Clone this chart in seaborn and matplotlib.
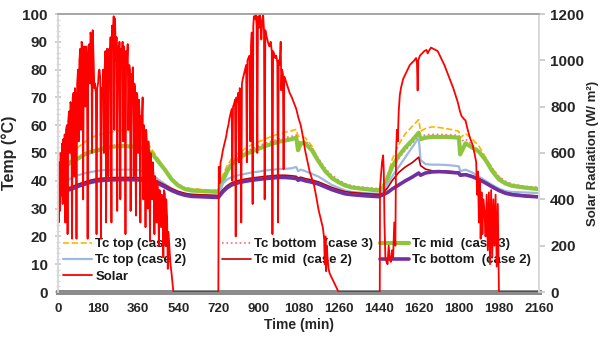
import matplotlib
matplotlib.use("Agg")
import matplotlib.pyplot as plt
import seaborn as sns
from matplotlib.ticker import MultipleLocator

# time axis for the collector temperatures (min)
temp_time = [0, 20, 40, 60, 90, 120, 150, 180, 210, 240, 270, 300, 330, 360, 390, 420, 450, 480, 510, 540, 570, 600, 660, 720,
             740, 760, 780, 810, 840, 870, 900, 930, 960, 990, 1020, 1050, 1070, 1078, 1090, 1110, 1140, 1170, 1200, 1230, 1260, 1290, 1320, 1380, 1440,
             1460, 1480, 1500, 1530, 1560, 1590, 1620, 1628, 1650, 1680, 1710, 1740, 1770, 1800, 1806, 1830, 1860, 1890, 1920, 1950, 1980, 2010, 2040, 2100, 2160]

# temperatures (deg C)
tc_top_case3 = [45, 46.5, 48, 50, 52, 54, 55.5, 56.5, 57, 57.5, 58, 58.3, 58, 57.5, 54.5, 51.5, 48, 44, 40.5, 38.5, 37.5, 37.2, 36.8, 36.5,
                42, 45.5, 48, 50, 51.5, 53, 54, 55, 56, 56.8, 57.5, 58, 58.5, 56, 56, 55.5, 52.5, 47.5, 43.5, 41, 39.5, 38.5, 37.8, 37.3, 37,
                38.5, 42, 47.5, 53, 57, 59.5, 62, 57.8, 58.8, 59.4, 59.2, 58.8, 58.4, 57.8, 55.5, 57, 55, 52.5, 48.5, 44.5, 41.5, 39.5, 38.5, 37.8, 37.3]
tc_bottom_case3 = [41.5, 43.5, 46, 47.5, 48.5, 50, 51, 51.5, 52.3, 52.7, 52.9, 53, 52.8, 52.5, 52, 50.5, 47.5, 44.5, 41, 38.8, 37.5, 37, 36.7, 36.5,
                   41, 44.5, 47, 49, 50.5, 51.5, 52.5, 53.5, 54.3, 55, 55.5, 56, 56.5, 53, 54.5, 54.5, 52, 48, 44.5, 42, 40.3, 39, 38.2, 37.6, 37.2,
                   38, 40.5, 44, 48, 51, 53.5, 56, 56, 56.5, 56.7, 56.7, 56.6, 56.5, 56.3, 54, 55, 53, 51, 48, 44.5, 41.5, 39.8, 38.8, 38, 37.6]
tc_mid_case3 = [41, 43, 45.5, 47, 48, 49.5, 50.5, 51, 51.8, 52.2, 52.4, 52.5, 52.3, 52, 51.5, 50, 47, 44, 40.5, 38.3, 37, 36.5, 36.2, 36,
                40, 43.5, 46, 48, 49.5, 50.5, 51.5, 52.5, 53.3, 54, 54.5, 55, 55.5, 51, 53.5, 53.5, 51, 47, 43.5, 41, 39.5, 38.3, 37.6, 37, 36.5,
                37.5, 41, 45, 49, 52, 54.5, 57.3, 55, 55.5, 55.8, 55.8, 55.8, 55.7, 55.5, 49.5, 53.5, 52, 50.5, 47.5, 43.5, 40.5, 39, 38.2, 37.5, 37]
tc_top_case2 = [38, 39, 40, 41, 42, 42.7, 43.2, 43.6, 43.9, 44, 44, 44, 44, 43.8, 43.5, 42.5, 40.5, 38.8, 37.2, 36, 35.3, 35, 34.8, 34.6,
                39, 40.5, 41.3, 42, 42.5, 43, 43.3, 43.7, 44, 44.2, 44.3, 44.5, 45, 43.5, 44, 43.5, 42.5, 41.5, 40, 38.5, 37.5, 36.5, 36, 35.6, 35.3,
                36.5, 39, 41.5, 45, 48.5, 52, 55.5, 47.5, 46, 45.8, 45.8, 45.7, 45.5, 45.2, 43.5, 44, 43, 41.5, 40, 38.5, 37.2, 36.3, 36, 35.8, 35.6]
tc_mid_case2 = [34.5, 36.8, 37.3, 37.8, 38.8, 39.6, 40.3, 40.8, 41, 41.1, 41.2, 41.2, 41.2, 41.1, 41, 40.7, 39.7, 38.5, 37.2, 36.2, 35.5, 35.1, 34.9, 34.7,
                36.8, 38.3, 39.3, 40.1, 40.6, 41, 41.3, 41.6, 41.8, 42, 42, 41.8, 41.6, 41, 41.3, 40.8, 40.3, 39.6, 38.6, 37.6, 36.8, 36.1, 35.8, 35.4, 35.1,
                35.5, 37.5, 40, 43, 45, 46.5, 48.5, 45.5, 44.2, 43.6, 43.6, 43.5, 43.3, 43.1, 42.3, 42.5, 41.8, 40.8, 39.5, 38.1, 36.8, 35.8, 35.3, 34.8, 34.5]
tc_bottom_case2 = [33.5, 36, 36.5, 37, 38, 38.8, 39.5, 40, 40.2, 40.3, 40.4, 40.4, 40.4, 40.3, 40.2, 40, 39, 37.8, 36.5, 35.5, 34.8, 34.4, 34.2, 34,
                   36, 37.5, 38.5, 39.3, 39.8, 40.2, 40.5, 40.8, 41, 41.2, 41.2, 41, 40.8, 40.2, 40.5, 40, 39.5, 38.8, 37.8, 36.8, 36, 35.3, 35, 34.6, 34.3,
                   35, 35.8, 37, 38.5, 40, 41.3, 42.8, 42, 42.8, 43.2, 43.3, 43.2, 43, 42.8, 42, 42.2, 41.5, 40.5, 39.2, 37.8, 36.5, 35.5, 35, 34.5, 34.2]

# solar radiation (time in min, W/m2), one list per day
solar_day1 = [(0, 480), (3, 300), (6, 560), (9, 350), (12, 600), (15, 420), (18, 640), (21, 380), (24, 660), (27, 520),
              (30, 680), (33, 300), (36, 700), (40, 720), (43, 250), (46, 740), (50, 780), (53, 600), (56, 820),
              (60, 800), (63, 230), (66, 840), (70, 860), (73, 500), (76, 880), (80, 830), (83, 230), (86, 900),
              (90, 960), (93, 650), (96, 1000), (100, 1050), (103, 700), (106, 1080), (110, 1050), (113, 400), (116, 1060),
              (120, 1040), (123, 800), (126, 1060), (130, 1000), (133, 230), (136, 1060), (140, 1070), (143, 900), (146, 1120),
              (150, 1090), (153, 600), (156, 1130), (160, 1000), (163, 880), (166, 900), (170, 860), (173, 250), (176, 880),
              (180, 900), (183, 950), (186, 960), (190, 920), (193, 230), (196, 880), (200, 860), (203, 960), (206, 600),
              (210, 980), (213, 1040), (216, 300), (220, 1050), (223, 1040), (226, 500), (230, 1050), (233, 1000), (236, 1100),
              (240, 300), (243, 1150), (246, 1050), (250, 1190), (253, 700), (256, 1180), (260, 1000), (263, 1100), (266, 350),
              (270, 1060), (273, 950), (276, 1080), (280, 400), (283, 1050), (286, 1000), (290, 1080), (293, 650), (296, 1060),
              (300, 1000), (303, 250), (306, 1040), (310, 1000), (313, 1070), (316, 700), (320, 980), (323, 960), (326, 350),
              (330, 940), (333, 900), (336, 970), (340, 500), (343, 900), (346, 880), (350, 330), (353, 860), (356, 850),
              (360, 600), (363, 830), (366, 780), (370, 300), (373, 760), (376, 720), (380, 840), (383, 400), (386, 720),
              (390, 660), (393, 280), (396, 700), (400, 620), (403, 360), (406, 650), (410, 560), (413, 220), (416, 600),
              (420, 520), (423, 400), (426, 560), (430, 480), (433, 250), (436, 500), (440, 460), (443, 300), (446, 480),
              (450, 420), (453, 200), (456, 440), (460, 400), (463, 280), (466, 420), (470, 380), (473, 150), (476, 440),
              (480, 420), (483, 200), (486, 400), (490, 320), (493, 100), (496, 260), (500, 200), (505, 120), (510, 80),
              (515, 30), (518, 0), (720, 0)]
solar_day2 = [(722, 540), (726, 470), (730, 560), (735, 580), (740, 610), (745, 630), (750, 650), (755, 670), (760, 700),
              (765, 720), (770, 750), (775, 770), (780, 790), (783, 480), (786, 800), (790, 810), (795, 830), (798, 240),
              (801, 840), (805, 820), (810, 860), (813, 560), (816, 880), (820, 870), (823, 300), (826, 900), (830, 920),
              (835, 940), (840, 960), (845, 980), (848, 560), (851, 1000), (855, 1010), (860, 1020), (864, 650), (867, 1060),
              (870, 1120), (874, 380), (877, 1150), (880, 1190), (884, 1180), (888, 1200), (892, 1150), (895, 600), (898, 1190),
              (902, 1140), (906, 1200), (910, 1160), (913, 1090), (917, 1170), (921, 1200), (925, 1130), (928, 400), (931, 1130),
              (935, 1110), (940, 1090), (945, 1070), (950, 1060), (955, 1080), (960, 1040), (963, 250), (966, 1040), (970, 1030),
              (975, 1010), (980, 1020), (985, 990), (988, 300), (991, 1000), (995, 980), (1000, 1080), (1003, 870), (1006, 960),
              (1010, 940), (1013, 530), (1016, 930), (1020, 920), (1030, 890), (1040, 860), (1050, 840), (1060, 815),
              (1070, 790), (1080, 750), (1090, 720), (1100, 670), (1110, 610), (1120, 565), (1130, 520), (1140, 490),
              (1150, 460), (1160, 410), (1170, 355), (1180, 315), (1190, 275), (1195, 230), (1198, 120), (1201, 240),
              (1204, 90), (1207, 200), (1210, 150), (1215, 100), (1220, 80), (1230, 60), (1240, 40), (1250, 20), (1260, 0),
              (1445, 0)]
solar_day3 = [(1446, 450), (1450, 500), (1455, 560), (1460, 590), (1463, 520), (1466, 300), (1470, 150), (1475, 130),
              (1480, 120), (1485, 200), (1490, 140), (1495, 130), (1500, 180), (1505, 150), (1510, 300), (1515, 200),
              (1518, 600), (1522, 700), (1526, 650), (1530, 780), (1535, 850), (1540, 880), (1545, 900), (1550, 920),
              (1560, 940), (1570, 960), (1580, 980), (1590, 990), (1600, 1000), (1608, 1010), (1612, 990), (1615, 870),
              (1618, 1000), (1625, 1020), (1635, 1030), (1645, 1040), (1655, 1045), (1660, 1030), (1665, 1040), (1675, 1055),
              (1685, 1050), (1695, 1045), (1705, 1040), (1715, 1020), (1725, 1000), (1735, 980), (1745, 955), (1755, 930),
              (1765, 905), (1775, 880), (1785, 850), (1795, 820), (1805, 780), (1812, 760), (1820, 750), (1830, 740),
              (1840, 700), (1850, 665), (1860, 640), (1870, 600), (1878, 560), (1882, 420), (1886, 520), (1890, 300),
              (1894, 480), (1898, 230), (1902, 430), (1906, 250), (1910, 400), (1915, 350), (1920, 240), (1925, 420),
              (1930, 180), (1935, 430), (1940, 120), (1945, 440), (1950, 150), (1955, 400), (1960, 200), (1965, 420),
              (1970, 110), (1975, 380), (1980, 0), (2160, 0)]

solar = solar_day1 + solar_day2 + solar_day3
solar_time = [p[0] for p in solar]
solar_wm2 = [p[1] for p in solar]

x_ticks = list(range(0, 2161, 180))

sns.set_theme(style="white")
plt.rcParams['font.family'] = ['Liberation Sans', 'DejaVu Sans']
plt.rcParams['font.weight'] = 'bold'
plt.rcParams['axes.labelweight'] = 'bold'

fig = plt.figure(figsize=(6.03, 3.38), dpi=100)
ax = fig.add_axes([58 / 603, 46 / 338, 481 / 603, 278 / 338])
ax2 = ax.twinx()

series = [
    (tc_top_case3, 'Tc top (case 3)', '#FFB400', '--', 1.2),
    (tc_bottom_case3, 'Tc bottom  (case 3)', '#FF6A6A', ':', 1.2),
    (tc_mid_case3, 'Tc mid  (case 3)', '#8CC63F', '-', 3.0),
    (tc_top_case2, 'Tc top (case 2)', '#9DB9E0', '-', 1.6),
    (tc_mid_case2, 'Tc mid  (case 2)', '#C00000', '-', 1.2),
    (tc_bottom_case2, 'Tc bottom  (case 2)', '#7030A0', '-', 2.6),
]
handles = {}
for vals, name, col, ls, lw in series:
    sns.lineplot(x=temp_time, y=vals, ax=ax, color=col, linestyle=ls, linewidth=lw,
                 estimator=None, legend=False, label=name)
    handles[name] = ax.get_lines()[-1]

sns.lineplot(x=solar_time, y=solar_wm2, ax=ax2, color='#FF0000', linewidth=1.3,
             estimator=None, sort=False, legend=False, label='Solar')
handles['Solar'] = ax2.get_lines()[-1]

ax.set_xlim(0, 2160)
ax.set_ylim(0, 100)
ax2.set_ylim(0, 1200)
ax.set_xticks(x_ticks)
ax.set_yticks(range(0, 101, 10))
ax.yaxis.set_minor_locator(MultipleLocator(2))
ax2.set_yticks(range(0, 1201, 200))

ax.tick_params(axis='x', length=0, pad=8, labelsize=9.5)
ax.tick_params(axis='y', which='major', direction='inout', length=5, color='#C8C8C8', pad=5, labelsize=11)
ax.tick_params(axis='y', which='minor', direction='inout', length=3, color='#D8D8D8', left=True)
ax2.tick_params(axis='y', direction='out', length=4, color='#C8C8C8', pad=4, labelsize=11)

for a in (ax, ax2):
    a.spines['top'].set_color('#A6A6A6')
    a.spines['left'].set_color('#D9D9D9')
    a.spines['right'].set_color('#D9D9D9')
    a.spines['bottom'].set_color('#8C8C8C')
    a.spines['bottom'].set_linewidth(3.5)
    a.spines['bottom'].set_zorder(0)

ax.set_xlabel('Time (min)', fontsize=10, labelpad=2)
ax.set_ylabel('Temp (°C)', fontsize=11.5, labelpad=4)
ax2.set_ylabel('Solar Radiation (W/ m²)', fontsize=9.5, va='center')
ax2.yaxis.set_label_coords((593 - 58) / 481, 0.5)

# legend in three columns, below the solar curve
cols = [
    (['Tc top (case 3)', 'Tc top (case 2)', 'Solar'], 63),
    (['Tc bottom  (case 3)', 'Tc mid  (case 2)'], 222),
    (['Tc mid  (case 3)', 'Tc bottom  (case 2)'], 380),
]
for i, (names, xpix) in enumerate(cols):
    leg = ax.legend([handles[n] for n in names], names, loc='upper left',
                    bbox_to_anchor=(xpix / 603, (338 - 238) / 338), bbox_transform=fig.transFigure,
                    frameon=False, fontsize=9.5, handlelength=2.2, handletextpad=0.25,
                    labelspacing=0.3, borderpad=0, borderaxespad=0)
    for t in leg.get_texts():
        t.set_color('#1a1a1a')
    if i < len(cols) - 1:
        ax.add_artist(leg)

fig.savefig('out.png', dpi=100)
